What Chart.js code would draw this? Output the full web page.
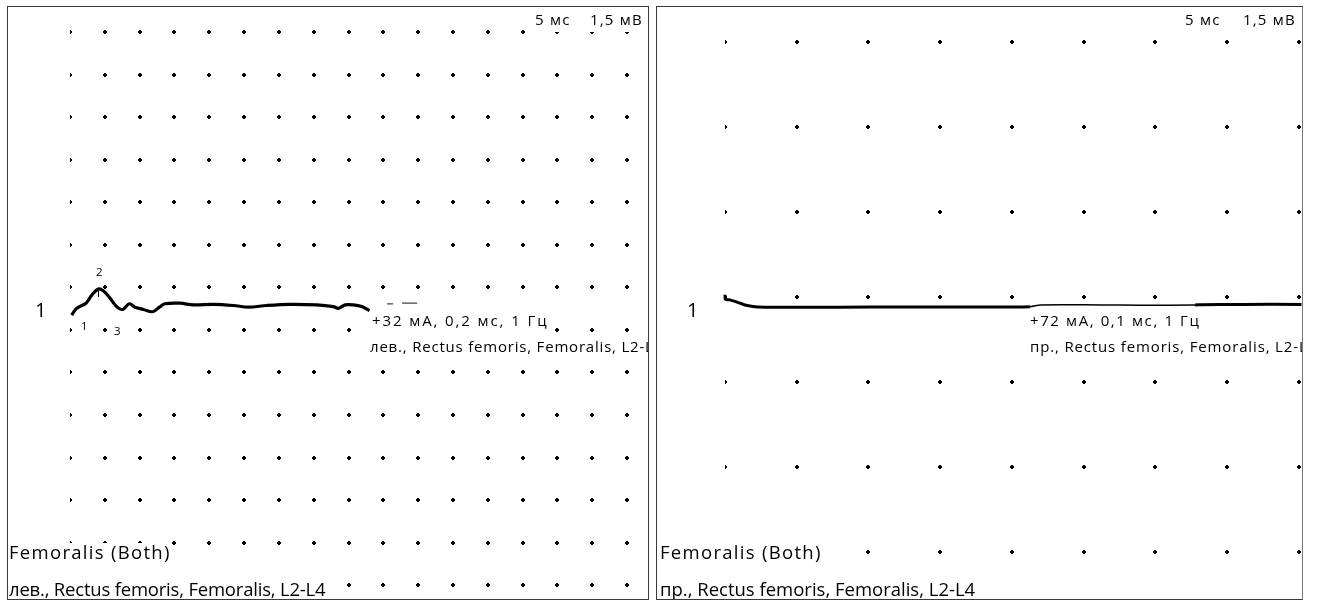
<!DOCTYPE html>
<html>
<head>
<meta charset="utf-8">
<script src="https://cdn.jsdelivr.net/npm/chart.js@4.4.1/dist/chart.umd.min.js"></script>
<style>
  html, body { margin: 0; padding: 0; background: #fff; }
  body { width: 1317px; height: 606px; position: relative; overflow: hidden; font-family: "Open Sans", sans-serif; color: #000; }
  .panel { position: absolute; top: 6px; width: 640px; height: 592px; border: 1px solid #3a3a3a; overflow: hidden; background: #fff; }
  #leftPanel { left: 7px; }
  #rightPanel { left: 656px; width: 645px; border-right-color: #7a7a7a; }
  .plot { position: absolute; left: 0; top: 0; width: 100%; height: 100%; }
  .lbl { position: absolute; white-space: nowrap; background: #fff; line-height: 1; }
  .big { font-size: 18.5px; }
  .small { font-size: 15px; }
  .top { padding-bottom: 5px; }
  .chan { font-size: 20px; background: transparent; }
  .mark { font-size: 11.5px; background: transparent; }
</style>
</head>
<body>

<div class="panel" id="leftPanel">
  <div class="plot"><canvas id="leftChart"></canvas></div>
  <div class="lbl small top" style="left:527px; top:5px; letter-spacing:1.3px;">5 мс</div>
  <div class="lbl small top" style="left:582px; top:5px; letter-spacing:1.2px;">1,5 мВ</div>
  <div class="lbl chan" style="left:27px; top:293px;">1</div>
  <div class="lbl mark" style="left:88px; top:259px;">2</div>
  <div class="lbl mark" style="left:73px; top:313px;">1</div>
  <div class="lbl mark" style="left:106px; top:318px;">3</div>
  <div class="lbl small" style="left:364px; top:306px; letter-spacing:1.9px; padding-bottom:5px;">+32 мА, 0,2 мс, 1 Гц</div>
  <div class="lbl small" style="left:362px; top:332px; letter-spacing:0.8px;">лев., Rectus femoris, Femoralis, L2-L4</div>
  <div class="lbl big" style="left:1px; top:536px; letter-spacing:1.3px;">Femoralis (Both)</div>
  <div class="lbl big" style="left:1px; top:573px; letter-spacing:-0.2px;">лев., Rectus femoris, Femoralis, L2-L4</div>
</div>

<div class="panel" id="rightPanel">
  <div class="plot"><canvas id="rightChart"></canvas></div>
  <div class="lbl small top" style="left:528px; top:5px; letter-spacing:1.3px;">5 мс</div>
  <div class="lbl small top" style="left:586px; top:5px; letter-spacing:1.2px;">1,5 мВ</div>
  <div class="lbl chan" style="left:30px; top:293px;">1</div>
  <div class="lbl small" style="left:373px; top:306px; letter-spacing:1.6px;">+72 мА, 0,1 мс, 1 Гц</div>
  <div class="lbl small" style="left:373px; top:332px; letter-spacing:0.85px;">пр., Rectus femoris, Femoralis, L2-L4</div>
  <div class="lbl big" style="left:3px; top:536px; letter-spacing:1.3px;">Femoralis (Both)</div>
  <div class="lbl big" style="left:3px; top:573px; letter-spacing:0px;">пр., Rectus femoris, Femoralis, L2-L4</div>
</div>

<script>
// left: лев., Rectus femoris — time in ms, amplitude in mV
const leftTime = [0.12, 0.48, 1.15, 1.56, 2.03, 2.39, 2.87, 3.35, 3.79, 4.26, 4.67, 5.27, 5.94, 6.42, 6.82, 7.90, 8.86, 10.29, 11.73, 12.81, 14.13, 15.80, 17.72, 18.92, 19.27, 19.76, 20.35, 20.96, 21.50]
const leftAmp = [-0.49, -0.37, -0.28, -0.14, -0.03, -0.06, -0.19, -0.34, -0.39, -0.29, -0.35, -0.39, -0.43, -0.35, -0.29, -0.28, -0.31, -0.30, -0.32, -0.35, -0.32, -0.30, -0.31, -0.34, -0.37, -0.31, -0.31, -0.34, -0.41]
// faint continuation after the main trace
const leftTailTime = [22.77, 23.20, 23.50, 23.85, 24.93]
const leftTailAmp = [-0.29, -0.29, null, -0.28, -0.28]

// right: пр., Rectus femoris
const rightTime = [0.00, 0.02, 0.35, 0.84, 1.39, 2.09, 3.14, 5.23, 8.00, 12.20, 16.00, 21.27, 22.00, 26.15, 29.00, 32.78, 33.20, 36.00, 40.20]
const rightAmp = [0.04, -0.04, -0.05, -0.09, -0.14, -0.17, -0.18, -0.18, -0.18, -0.175, -0.175, -0.17, -0.14, -0.14, -0.145, -0.14, -0.135, -0.13, -0.13]

// marker 2 sits on the peak of the left response
const peakTime = 2.03
const peakAmp = -0.03

const toPoints = (xs, ys) => xs.map((x, i) => ({ x: x, y: ys[i] }))

// dotted grid at every tick crossing, clipped on the left edge like the original
const dotGrid = {
  id: "dotGrid",
  beforeDatasetsDraw(chart) {
    const { ctx, chartArea } = chart
    const xs = chart.scales.x
    const ys = chart.scales.y
    ctx.save()
    ctx.beginPath()
    ctx.rect(chartArea.left, 0, chart.width - chartArea.left, chart.height)
    ctx.clip()
    ctx.fillStyle = "#000"
    xs.ticks.forEach(tx => {
      const px = Math.round(xs.getPixelForValue(tx.value))
      ys.ticks.forEach(ty => {
        const py = Math.round(ys.getPixelForValue(ty.value))
        ctx.fillRect(px - 2, py - 1, 4, 2)
        ctx.fillRect(px - 1, py - 2, 2, 4)
      })
    })
    ctx.restore()
  }
}

const peakTick = {
  id: "peakTick",
  afterDatasetsDraw(chart) {
    if (chart.canvas.id !== "leftChart") return
    const { ctx } = chart
    const px = Math.round(chart.scales.x.getPixelForValue(peakTime)) + 0.5
    const py = chart.scales.y.getPixelForValue(peakAmp)
    ctx.save()
    ctx.strokeStyle = "#000"
    ctx.lineWidth = 1
    ctx.beginPath()
    ctx.moveTo(px, py)
    ctx.lineTo(px, py + 8)
    ctx.stroke()
    ctx.restore()
  }
}

function baseOptions(xStep, yMin, yMax, yStep, padding) {
  return {
    responsive: true,
    maintainAspectRatio: false,
    animation: false,
    layout: { padding: padding },
    plugins: { legend: { display: false }, tooltip: { enabled: false } },
    elements: { point: { radius: 0 } },
    scales: {
      x: { type: "linear", min: 0, max: 40, display: false, ticks: { stepSize: xStep } },
      y: { type: "linear", min: yMin, max: yMax, display: false, ticks: { stepSize: yStep } }
    }
  }
}

new Chart(document.getElementById("leftChart"), {
  type: "line",
  data: {
    datasets: [
      {
        data: toPoints(leftTime, leftAmp),
        borderColor: "#000",
        borderWidth: 3.2,
        tension: 0.35,
        clip: 6
      },
      {
        data: toPoints(leftTailTime, leftTailAmp),
        borderColor: "#444",
        borderWidth: 1.2,
        spanGaps: false,
        clip: 6
      }
    ]
  },
  options: baseOptions(2.5, -5.25, 4.5, 0.75, { left: 62, right: 21, top: 25, bottom: 13.8 }),
  plugins: [dotGrid, peakTick]
})

const THIN_FROM = 21.27
const THIN_TO = 32.78

new Chart(document.getElementById("rightChart"), {
  type: "line",
  data: {
    datasets: [
      {
        data: toPoints(rightTime, rightAmp),
        borderColor: "#000",
        borderWidth: 3,
        tension: 0.3,
        clip: { left: 2, top: 6, right: 6, bottom: 6 },
        segment: {
          borderWidth: ctx => (ctx.p0.parsed.x >= THIN_FROM && ctx.p1.parsed.x <= THIN_TO) ? 1.5 : 3
        }
      }
    ]
  },
  options: baseOptions(5, -4.5, 4.5, 1.5, { left: 68, right: 3.4, top: 34.7, bottom: 46.7 }),
  plugins: [dotGrid]
})
</script>
</body>
</html>
